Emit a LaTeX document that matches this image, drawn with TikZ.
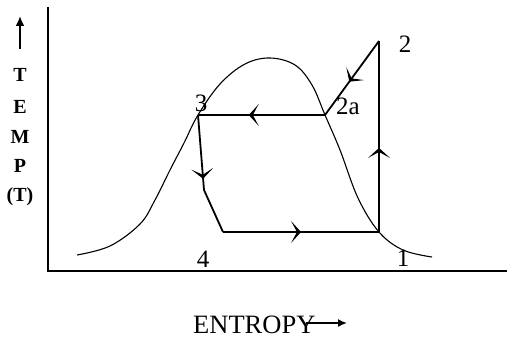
\documentclass[tikz,border=0pt]{standalone}
\usepackage{fontspec}
\setmainfont{Liberation Serif}
\usetikzlibrary{arrows.meta, decorations.markings}
\tikzset{
    cycleline/.style={line width=1.8pt},
    midarrow/.style={postaction={decorate}, decoration={markings,
        mark=at position #1 with {\arrow{Stealth[length=10pt, width=22pt, inset=6pt]}}}},
    ptlabel/.style={font=\fontsize{25}{29}\selectfont, inner sep=0pt}
}

\begin{document}
\begin{tikzpicture}[x=1pt, y=-1pt]
    \useasboundingbox (0,0) rectangle (508,345);

    % Axes
    \draw[line width=1.9pt] (48,7) -- (48,271) -- (507,271);
    \draw[line width=1.9pt, -{Latex[length=10pt, width=9pt]}] (20,49) -- (20,16);
    \foreach \ch/\y in {T/75, E/107, M/137, P/166, (T)/197} {
        \node[font=\fontsize{20}{23}\selectfont\bfseries, inner sep=0pt] at (20,\y) {\ch};
    }
    \node[font=\fontsize{26.5}{31}\selectfont, inner sep=0pt, anchor=west] (xlab) at (193,325) {ENTROPY};
    \draw[line width=1.6pt, -{Latex[length=9pt, width=8pt]}] (306,323) -- (347,323);

    % Saturation dome
    \draw[line width=1.1pt] plot[smooth, tension=0.6] coordinates {
        (77,255) (110,246) (140,224) (155,200) (170,170) (184,143) (198,115) (220,84)
        (245,64) (270,58) (295,65) (312,85) (325,115) (340,150) (358,198)
        (379,232) (403,250) (432,257)};

    % Cycle points
    \coordinate (p1) at (379,232);
    \coordinate (p2) at (379,41);
    \coordinate (p2a) at (325,115);
    \coordinate (p3) at (198,115);
    \coordinate (p3b) at (204,190);
    \coordinate (p4) at (223,232);

    % Cycle
    \draw[cycleline, midarrow=0.44] (p1) -- (p2);
    \draw[cycleline, midarrow=0.55] (p2) -- (p2a);
    \draw[cycleline, midarrow=0.6] (p2a) -- (p3);
    \draw[cycleline, midarrow=0.85] (p3) -- (p3b);
    \draw[cycleline] (p3b) -- (p4);
    \draw[cycleline, midarrow=0.5] (p4) -- (p1);

    % Labels
    \node[ptlabel] (l1) at (403,258) {1};
    \node[ptlabel] (l2) at (405,44) {2};
    \node[ptlabel] (l2a) at (348,106) {2a};
    \node[ptlabel] (l3) at (201,103) {3};
    \node[ptlabel] (l4) at (203,259) {4};
\end{tikzpicture}
\end{document}
